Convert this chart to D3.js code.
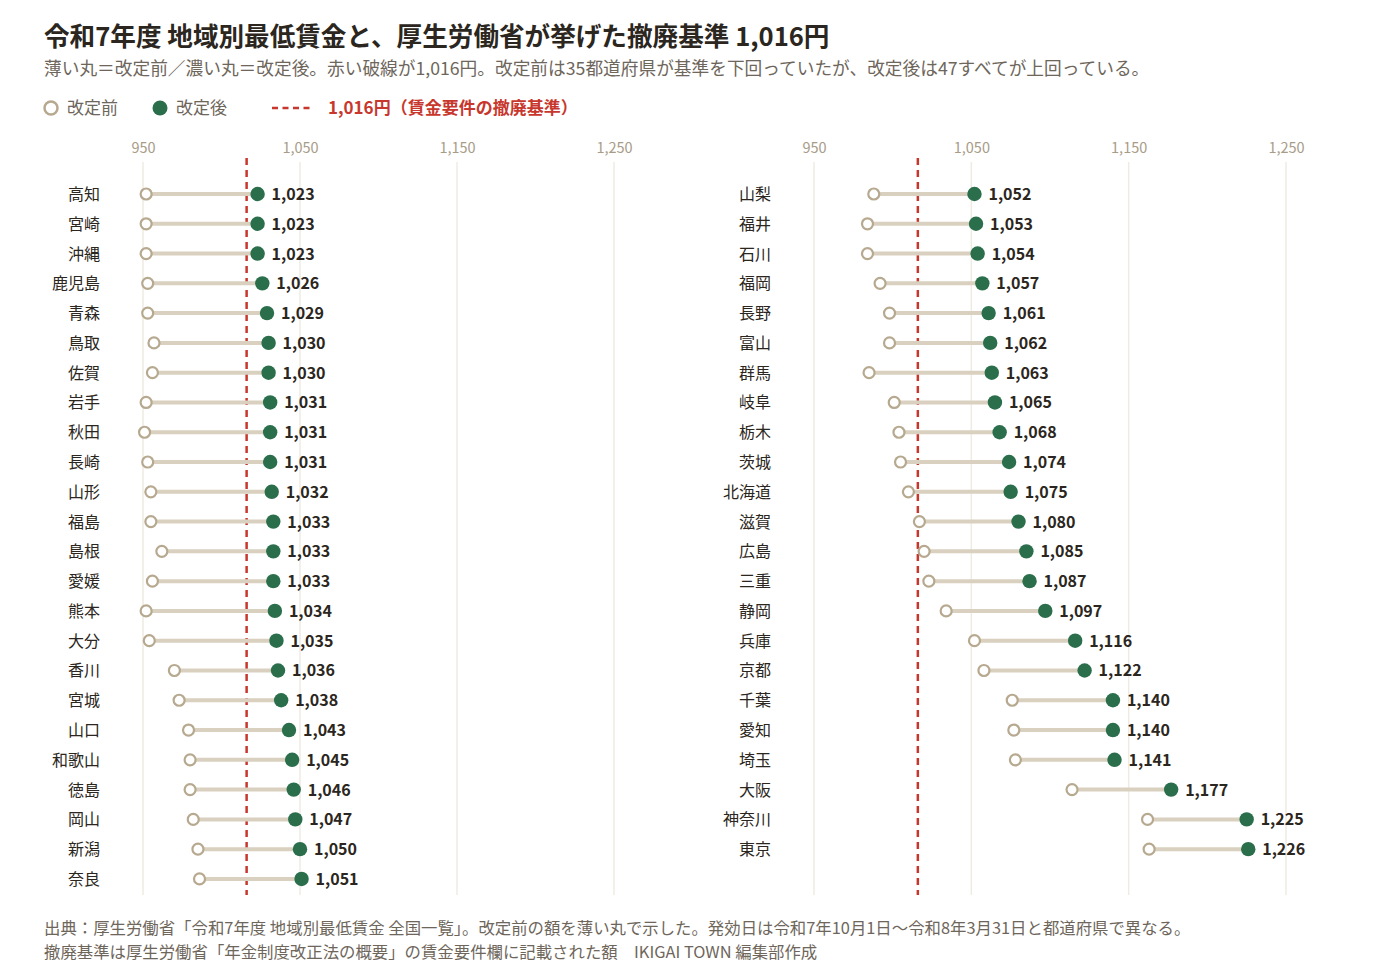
<!DOCTYPE html>
<html lang="ja">
<head>
<meta charset="utf-8">
<script src="https://cdn.jsdelivr.net/npm/d3@7"></script>
<style>
  body { margin: 0; background: #fff; }
  svg { display: block; font-family: "Noto Sans CJK JP", "Noto Sans", sans-serif; }
</style>
</head>
<body>
<svg id="chart"></svg>
<script>
// 左列（24都道府県）
const leftNames = ['高知','宮崎','沖縄','鹿児島','青森','鳥取','佐賀','岩手','秋田','長崎','山形','福島','島根','愛媛','熊本','大分','香川','宮城','山口','和歌山','徳島','岡山','新潟','奈良'];
const leftBefore = [952,952,952,953,953,957,956,952,951,953,955,955,962,956,952,954,970,973,979,980,980,982,985,986];
const leftAfter = [1023,1023,1023,1026,1029,1030,1030,1031,1031,1031,1032,1033,1033,1033,1034,1035,1036,1038,1043,1045,1046,1047,1050,1051];

// 右列（23都道府県）
const rightNames = ['山梨','福井','石川','福岡','長野','富山','群馬','岐阜','栃木','茨城','北海道','滋賀','広島','三重','静岡','兵庫','京都','千葉','愛知','埼玉','大阪','神奈川','東京'];
const rightBefore = [988,984,984,992,998,998,985,1001,1004,1005,1010,1017,1020,1023,1034,1052,1058,1076,1077,1078,1114,1162,1163];
const rightAfter = [1052,1053,1054,1057,1061,1062,1063,1065,1068,1074,1075,1080,1085,1087,1097,1116,1122,1140,1140,1141,1177,1225,1226];

const tickValues = [950, 1050, 1150, 1250];
const threshold = 1016;

const W = 1400, H = 977;
const svg = d3.select('#chart').attr('width', W).attr('height', H);

const C = {
  text: '#2b2620',
  sub: '#6e665b',
  tick: '#a89c88',
  grid: '#efebe3',
  seg: '#d9d0bf',
  before: '#b7a98f',
  after: '#2a6e4b',
  red: '#c8372d'
};

// タイトル
svg.append('text').attr('x', 44).attr('y', 46)
  .attr('font-size', 25.6).attr('font-weight', 700).attr('fill', C.text)
  .text('令和7年度 地域別最低賃金と、厚生労働省が挙げた撤廃基準 1,016円');
svg.append('text').attr('x', 44).attr('y', 75)
  .attr('font-size', 17.7).attr('fill', C.sub)
  .text('薄い丸＝改定前／濃い丸＝改定後。赤い破線が1,016円。改定前は35都道府県が基準を下回っていたが、改定後は47すべてが上回っている。');

// 凡例
const lg = svg.append('g');
lg.append('circle').attr('cx', 51).attr('cy', 108).attr('r', 6.5)
  .attr('fill', '#fff').attr('stroke', C.before).attr('stroke-width', 2.5);
lg.append('text').attr('x', 67).attr('y', 114).attr('font-size', 17).attr('fill', C.sub).text('改定前');
lg.append('circle').attr('cx', 160).attr('cy', 108).attr('r', 7.5).attr('fill', C.after);
lg.append('text').attr('x', 176).attr('y', 114).attr('font-size', 17).attr('fill', C.sub).text('改定後');
lg.append('line').attr('x1', 272).attr('x2', 314).attr('y1', 108).attr('y2', 108)
  .attr('stroke', C.red).attr('stroke-width', 2.5).attr('stroke-dasharray', '6,4.5');
lg.append('text').attr('x', 328).attr('y', 114).attr('font-size', 17).attr('font-weight', 700)
  .attr('fill', C.red).text('1,016円（賃金要件の撤廃基準）');

const gridTop = 162, gridBottom = 895;
const yTop = 194, step = 29.78;

function panel(names, before, after, x0, x1, labelX) {
  const x = d3.scaleLinear().domain([950, 1250]).range([x0, x1]);
  const y = d3.scaleLinear().domain([0, 1]).range([yTop, yTop + step]);
  const g = svg.append('g');

  // 目盛り
  const axis = d3.axisTop(x).tickValues(tickValues).tickSize(0).tickFormat(d3.format(','));
  const ax = g.append('g').attr('transform', 'translate(0,148)').call(axis);
  ax.select('.domain').remove();
  ax.selectAll('text').attr('font-size', 14.5).attr('fill', C.tick)
    .attr('font-family', '"Noto Sans CJK JP", sans-serif').attr('dy', 0).attr('y', 5);

  g.selectAll('line.grid').data(tickValues).join('line')
    .attr('x1', d => x(d)).attr('x2', d => x(d))
    .attr('y1', gridTop).attr('y2', gridBottom)
    .attr('stroke', C.grid).attr('stroke-width', 1.5);

  g.append('line').attr('x1', x(threshold)).attr('x2', x(threshold))
    .attr('y1', 158).attr('y2', gridBottom)
    .attr('stroke', C.red).attr('stroke-width', 2.5).attr('stroke-dasharray', '7,5');

  const rows = g.selectAll('g.row').data(names.map((n, i) => ({ n, b: before[i], a: after[i], i })))
    .join('g').attr('transform', d => `translate(0,${y(d.i)})`);

  rows.append('text').attr('x', labelX).attr('y', 6).attr('text-anchor', 'end')
    .attr('font-size', 16).attr('fill', C.text).text(d => d.n);
  rows.append('line').attr('x1', d => x(d.b)).attr('x2', d => x(d.a))
    .attr('stroke', C.seg).attr('stroke-width', 4);
  rows.append('circle').attr('cx', d => x(d.b)).attr('r', 5.5)
    .attr('fill', '#fff').attr('stroke', C.before).attr('stroke-width', 2.2);
  rows.append('circle').attr('cx', d => x(d.a)).attr('r', 7.2).attr('fill', C.after);
  rows.append('text').attr('x', d => x(d.a) + 14).attr('y', 6)
    .attr('font-size', 16).attr('font-weight', 700).attr('fill', C.text)
    .text(d => d3.format(',')(d.a));
}

panel(leftNames, leftBefore, leftAfter, 143, 614, 100);
panel(rightNames, rightBefore, rightAfter, 814, 1286, 771);

// 出典
svg.append('text').attr('x', 44).attr('y', 934).attr('font-size', 16.4).attr('fill', C.sub)
  .text('出典：厚生労働省「令和7年度 地域別最低賃金 全国一覧」。改定前の額を薄い丸で示した。発効日は令和7年10月1日〜令和8年3月31日と都道府県で異なる。');
svg.append('text').attr('x', 44).attr('y', 958).attr('font-size', 16.4).attr('fill', C.sub)
  .text('撤廃基準は厚生労働省「年金制度改正法の概要」の賃金要件欄に記載された額　IKIGAI TOWN 編集部作成');
</script>
</body>
</html>
